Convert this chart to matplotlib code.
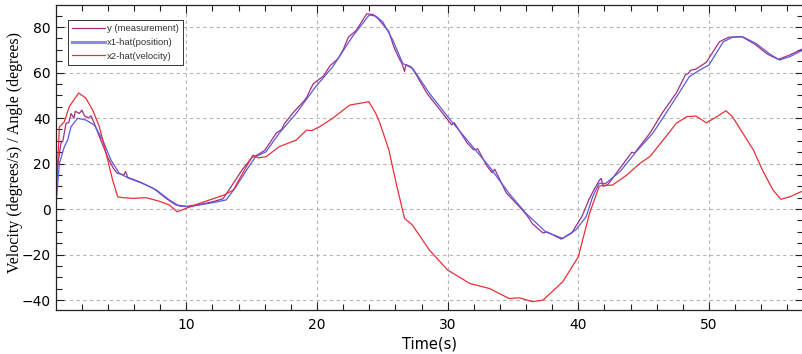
import matplotlib
matplotlib.use('Agg')
import matplotlib.pyplot as plt
from matplotlib.ticker import MultipleLocator

# x1-hat (position) estimate
t_pos = [0.0, 0.07, 0.28, 0.66, 0.91, 1.17, 1.68, 2.32, 2.96, 3.6, 4.23, 4.87, 5.6, 6.65, 7.7,
         8.7, 9.46, 10.2, 11.0, 12.0, 13.04, 13.8, 14.6, 15.3, 16.1, 17.1, 18.4, 19.9, 21.2,
         22.7, 24.0, 24.5, 25.03, 25.8, 26.56, 27.33, 28.6, 30.1, 31.7, 33.2, 34.7, 36.0,
         37.5, 38.8, 39.8, 40.6, 41.1, 41.6, 42.1, 43.2, 44.4, 45.7, 46.7, 47.7, 48.5, 49.3,
         50.0, 51.1, 51.8, 52.6, 53.6, 54.6, 55.4, 56.2, 57.2]
pos = [2, 5.4, 20, 27.4, 30.3, 36.2, 39.9, 39.1, 36.9, 30.3, 21.5, 15.7, 13.5, 11.3, 8.4,
       4, 1.3, 1.0, 1.8, 2.8, 4, 9.8, 17.1, 23, 25.2, 33.3, 42, 53.8, 62.5,
       75.7, 85.3, 84.8, 82.3, 74.3, 64, 61.8, 50.9, 39.9, 28.9, 18.6, 6.9, -1.9,
       -10, -12.9, -9.2, -3.4, 5.4, 11.3, 11.3, 16.5, 25, 33.3, 42, 50.9, 58.2, 61.1,
       63.3, 73.5, 75.5, 75.7, 72.8, 68.4, 65.5, 67, 69.9]

# y (measurement)
t_meas = [0.0, 0.05, 0.4, 0.55, 0.79, 1.0, 1.17, 1.4, 1.5, 1.8, 2.0, 2.2, 2.5, 2.7, 3.0, 3.4,
          4.0, 4.4, 4.7, 5.2, 5.35, 5.5, 6.4, 7.5, 8.5, 9.2, 10.0, 11.0, 12.0, 12.8, 13.5,
          14.3, 15.0, 15.5, 16.0, 16.9, 17.3, 17.5, 18.2, 19.0, 19.2, 19.7, 20.5, 21.0, 21.6,
          22.0, 22.4, 22.7, 23.0, 23.5, 23.8, 24.3, 24.7, 25.5, 25.9, 26.3, 26.5, 26.7, 26.8,
          27.2, 27.6, 28.4, 29.9, 30.3, 30.5, 31.5, 32.0, 32.3, 33.0, 33.4, 33.6, 34.5, 35.5,
          36.1, 36.5, 37.3, 37.6, 38.7, 39.5, 40.3, 40.8, 41.2, 41.6, 41.75, 41.9, 42.2, 42.5,
          43.0, 44.1, 44.3, 45.5, 46.4, 47.5, 48.2, 48.4, 48.6, 49.0, 49.8, 50.8, 51.5, 52.5,
          53.5, 54.5, 55.3, 56.1, 57.2]
meas = [10, 15, 29, 30, 37.7, 38, 42, 40, 43, 42, 43.5, 41, 40, 41, 37, 31,
        22.5, 18, 15.8, 15, 16.5, 14, 12, 9, 4.5, 1.8, 1.2, 2, 3.2, 4.5, 10.5,
        17.5, 22.5, 24, 25.8, 33.5, 35, 37.5, 42.5, 47.5, 49, 55, 58.5, 63, 66,
        70, 75.5, 77, 78.5, 83, 85.8, 85.5, 83.5, 78, 71, 66, 64, 60.5, 63.5,
        62.5, 59, 51, 40, 37, 38, 29, 26, 26.5, 19, 16, 17.5, 7, 1,
        -3, -6.5, -10.5, -10, -13.2, -10.5, -3, 4, 8.5, 12.5, 13.5, 10, 10.5, 12.5,
        16.5, 25, 24.5, 33.5, 42, 51, 59, 59.5, 61, 61.5, 64.5, 73.5, 75.5, 75.8,
        72.5, 68, 65.8, 67.5, 70.5]

# x2-hat (velocity) estimate
t_vel = [0.0, 0.02, 0.15, 0.28, 0.66, 1.04, 1.75, 2.3, 2.83, 3.34, 3.85, 4.36, 4.74, 5.12, 5.9,
         6.9, 7.9, 8.7, 9.3, 9.98, 11.0, 12.9, 13.6, 14.3, 15.1, 15.5, 16.1, 17.1, 18.4, 19.2,
         19.6, 20.2, 21.2, 22.5, 23.2, 23.96, 24.5, 24.8, 25.5, 26.06, 26.7, 27.3, 28.6, 30.0,
         31.7, 33.2, 34.7, 35.5, 36.5, 37.3, 38.8, 40.0, 40.86, 41.6, 41.9, 42.6, 43.7, 44.7,
         45.5, 46.7, 47.5, 48.3, 49.0, 49.8, 50.6, 51.3, 51.8, 52.6, 53.4, 54.1, 54.9, 55.5,
         56.2, 57.2]
vel = [0, 1, 20, 36, 38.4, 45, 51, 48.8, 43.5, 36.2, 24.6, 12.7, 5.4, 5, 4.7,
       5, 3.5, 1.8, -1.2, 0.3, 2.5, 6.2, 8.4, 15.7, 23.7, 22.5, 23, 27.4, 30.3, 34.7,
       34.5, 36.2, 39.9, 45.7, 46.4, 47.2, 42, 38, 26, 11.3, -4.1, -7, -18, -26.8,
       -32.7, -34.9, -39.3, -39, -40.7, -40, -32, -21, -1.9, 10, 10.5, 10.5, 14.9, 20,
       23.2, 31.8, 37.7, 40.6, 40.9, 37.9, 40.6, 43.2, 40.6, 33.3, 26, 17.1, 8.4, 4.3,
       5.4, 8]

fig = plt.figure(figsize=(8.03, 3.54), dpi=100)
ax = fig.add_axes([0.0702, 0.124, 0.9298, 0.862])

ax.plot(t_meas, meas, color='#a0307a', lw=0.9, label='y (measurement)')
ax.plot(t_pos, pos, color='#5a5ae0', lw=0.9, label='x1-hat(position)')
ax.plot(t_vel, vel, color='#e8303a', lw=0.9, label='x2-hat(velocity)')

ax.set_xlim(0.05, 57.2)
ax.set_ylim(-44.4, 89.7)
ax.xaxis.set_major_locator(MultipleLocator(10))
ax.xaxis.set_minor_locator(MultipleLocator(2))
ax.yaxis.set_major_locator(MultipleLocator(20))
ax.yaxis.set_minor_locator(MultipleLocator(5))
ax.tick_params(which='both', direction='in', top=True, right=True, labelsize=10, color='#222222')
ax.tick_params(which='major', length=6, width=0.8)
ax.tick_params(which='minor', length=4, width=0.8)
ax.tick_params(axis='x', pad=6)
ax.tick_params(axis='y', pad=4)
ax.grid(True, which='major', color='#b4b4b4', linestyle=(0, (3, 3)), linewidth=0.8)
for s in ax.spines.values():
    s.set_color('#222222')
    s.set_linewidth(0.9)

ax.set_xlabel('Time(s)', fontsize=10.5, labelpad=3)
ax.set_ylabel('Velocity (degrees/s) / Angle (degrees)', fontsize=11.5, family='Liberation Serif')
ax.yaxis.set_label_coords(-0.045, 0.518)

leg = ax.legend(loc='upper left', bbox_to_anchor=(0.0155, 0.951), borderaxespad=0,
                prop={'family': 'Liberation Sans', 'size': 6.8}, handlelength=3.5,
                fancybox=False, framealpha=1, edgecolor='#333333', borderpad=0.45,
                labelspacing=0.5, handletextpad=0.15)
leg.get_frame().set_linewidth(0.7)
leg.legend_handles[1].set_linewidth(2.2)
leg.legend_handles[1].set_color('#8c8ce4')
for txt in leg.get_texts():
    txt.set_color('#333333')

fig.savefig('out.png', dpi=100)
